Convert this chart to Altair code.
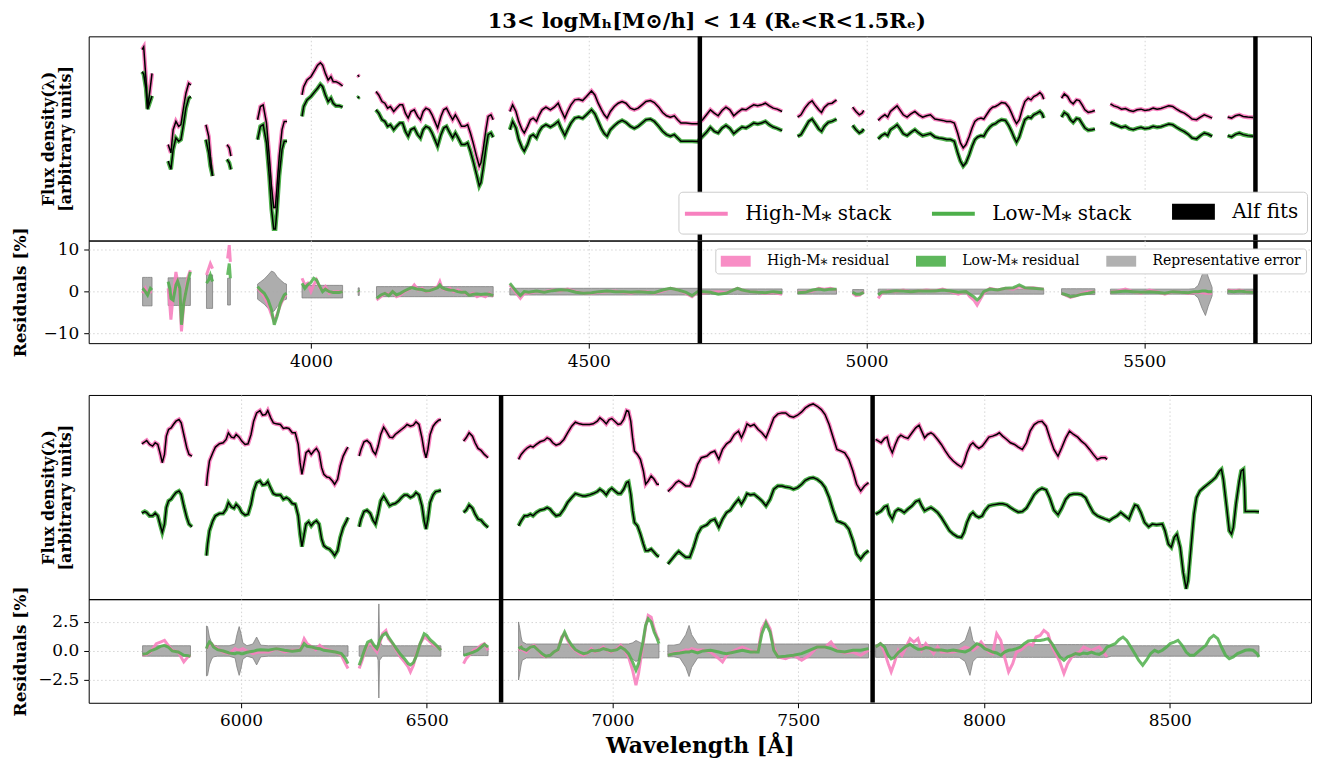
import altair as alt
import pandas as pd

FONT = "DejaVu Serif"
PINK = "#f781bf"
GREEN = "#4daf4a"
GRAY = "#a9a9a9"
GRAYEDGE = "#7a7a7a"
GRID = "#cfcfcf"

HI = "High-M⁎ stack"
LO = "Low-M⁎ stack"
FIT = "Alf fits"
RHI = "High-M⁎ residual"
RLO = "Low-M⁎ residual"
RERR = "Representative error"
TITLE = "13< logMₕ[M⊙/h] < 14 (Rₑ<R<1.5Rₑ)"

# ---------------- top spectrum (flux in arbitrary units) ----------------
tA_wl = [3696, 3699, 3703, 3706, 3710, 3714]
tA_hi = [577, 585, 490, 400, 450, 505]
tA_lo = [510, 503, 460, 397, 417, 437]
tB_wl = [3743, 3748, 3752, 3757, 3762, 3766, 3771, 3775, 3780, 3784]
tB_hi = [290, 265, 335, 360, 345, 350, 405, 445, 475, 470]
tB_lo = [240, 215, 275, 310, 300, 305, 355, 400, 430, 435]
tC_wl = [3811, 3816, 3819, 3823]
tC_hi = [350, 315, 255, 195]
tC_lo = [305, 265, 225, 195]
tD_wl = [3849, 3853, 3856]
tD_hi = [290, 280, 255]
tD_lo = [245, 235, 215]
tE_wl = [3904, 3909, 3914, 3920, 3925, 3929, 3933, 3936, 3939, 3943, 3948, 3952, 3957]
tE_hi = [365, 405, 410, 355, 255, 165, 100, 100, 165, 255, 335, 360, 360]
tE_lo = [305, 345, 350, 295, 195, 95, 35, 35, 95, 195, 275, 300, 300]
tF_wl = [3984, 3987, 3993, 4000, 4007, 4012, 4017, 4021, 4026, 4031, 4036, 4040, 4045, 4051, 4057]
tF_hi = [440, 465, 485, 495, 515, 530, 537, 530, 505, 485, 495, 480, 480, 475, 467]
tF_lo = [375, 405, 425, 435, 450, 460, 472, 465, 440, 420, 430, 415, 407, 407, 403]
tG_wl = [4084, 4087]
tG_hi = [500, 495]
tG_lo = [430, 435]
tH_wl = [4117, 4122, 4128, 4133, 4138, 4143, 4149, 4154, 4160, 4165, 4170, 4175, 4180, 4186,
         4192, 4197, 4202, 4207, 4213, 4218, 4223, 4228, 4234, 4239, 4244, 4250, 4255, 4260,
         4265, 4271, 4277, 4282, 4287, 4292, 4298, 4303, 4306, 4310, 4315, 4319, 4324, 4328]
tH_hi = [450, 440, 420, 415, 400, 405, 390, 400, 410, 410, 385, 370, 390, 395, 375, 365, 390, 400,
         395, 380, 360, 340, 375, 395, 400, 380, 365, 380, 365, 345, 345, 350, 325, 295, 255, 225,
         235, 275, 335, 375, 380, 365]
tH_lo = [395, 385, 365, 360, 345, 350, 335, 345, 355, 355, 330, 315, 335, 340, 320, 310, 335, 345,
         340, 325, 305, 285, 320, 340, 345, 325, 310, 325, 310, 290, 290, 295, 270, 240, 200, 165,
         175, 218, 280, 320, 325, 312]
tI_wl = [4358, 4363, 4369, 4374, 4380, 4384, 4390, 4395, 4400, 4406, 4411, 4416, 4423, 4431, 4438,
         4445, 4450, 4457, 4462, 4468, 4475, 4482, 4489, 4496, 4505, 4511, 4517, 4523, 4528, 4533,
         4539, 4546, 4553, 4560, 4567, 4575, 4582, 4589, 4596, 4603, 4611, 4618, 4626, 4633, 4640,
         4647, 4654, 4660, 4666, 4675, 4686, 4696, 4705, 4712, 4719, 4726, 4733, 4740, 4747, 4754,
         4761, 4768, 4776, 4783, 4790, 4797, 4804, 4811, 4818, 4825, 4832, 4839, 4848]
tI_hi = [390, 410, 390, 360, 335, 325, 345, 365, 370, 360, 380, 395, 403, 395, 403, 415, 395, 370,
         390, 410, 425, 427, 423, 435, 452, 440, 415, 395, 380, 370, 390, 405, 415, 420, 415, 400,
         395, 400, 410, 420, 423, 417, 403, 387, 377, 373, 377, 365, 355, 355, 353, 353,
         365, 380, 395, 385, 377, 393, 403, 395, 377, 387, 397, 395, 403, 410, 407, 410, 415, 407,
         400, 397, 390]
tI_lo = [335, 360, 340, 305, 280, 270, 290, 315, 320, 310, 330, 343, 350, 343, 350, 360, 340, 317,
         335, 355, 370, 373, 369, 380, 395, 383, 360, 337, 323, 315, 335, 347, 357, 363, 357, 345,
         339, 345, 355, 365, 367, 360, 345, 330, 320, 315, 320, 310, 300, 300, 300, 299,
         315, 327, 342, 330, 325, 340, 348, 339, 323, 333, 343, 340, 347, 355, 352, 355, 360, 350,
         343, 339, 332]
tJ_wl = [4876, 4882, 4889, 4896, 4902, 4907, 4914, 4919, 4924, 4931, 4938, 4946]
tJ_hi = [373, 380, 400, 415, 422, 410, 395, 387, 402, 413, 415, 425]
tJ_lo = [315, 320, 340, 360, 367, 355, 337, 330, 345, 357, 360, 367]
tK_wl = [4975, 4981, 4987, 4992, 4995]
tK_hi = [403, 390, 380, 385, 393]
tK_lo = [348, 335, 325, 330, 337]
tL_wl = [5021, 5027, 5033, 5038, 5043, 5050, 5055, 5060, 5066, 5073, 5080, 5087, 5094, 5101, 5108,
         5115, 5123, 5130, 5137, 5144, 5151, 5158, 5164, 5169, 5174, 5179, 5185, 5190, 5195, 5200,
         5206, 5211, 5216, 5222, 5227, 5232, 5237, 5243, 5250, 5256, 5261, 5266, 5270, 5275, 5280,
         5285, 5291, 5296, 5301, 5307, 5312, 5316, 5319]
tL_hi = [363, 373, 380, 373, 390, 400, 407, 395, 380, 373, 383, 390, 380, 373, 377, 380, 367, 365,
         363, 360, 360, 355, 325, 295, 280, 290, 315, 340, 360, 367, 370, 367, 380, 395, 403, 405,
         410, 417, 415, 403, 385, 365, 353, 365, 395, 420, 430, 425, 435, 440, 447, 440, 427]
tL_lo = [307, 317, 323, 317, 335, 343, 350, 339, 323, 317, 327, 335, 325, 317, 320, 323, 313, 310,
         308, 305, 305, 300, 265, 240, 225, 235, 260, 285, 305, 313, 317, 315, 330, 343, 350, 353,
         360, 365, 363, 347, 330, 310, 297, 313, 340, 365, 373, 370, 380, 385, 390, 383, 370]
tM_wl = [5351, 5356, 5362, 5367, 5372, 5378, 5383, 5388, 5393, 5399, 5406, 5411]
tM_hi = [430, 443, 435, 420, 413, 425, 423, 410, 395, 387, 390, 393]
tM_lo = [373, 387, 380, 365, 357, 369, 367, 353, 340, 333, 335, 337]
tN_wl = [5439, 5445, 5452, 5459, 5466, 5473, 5480, 5487, 5494, 5501, 5509, 5516, 5523, 5530,
         5537, 5544, 5551, 5558, 5565, 5572, 5579, 5586, 5594, 5601, 5608, 5615, 5622]
tN_hi = [413, 407, 403, 397, 399, 393, 390, 395, 397, 393, 395, 400, 397, 399, 403, 407, 405, 397,
         390, 385, 377, 367, 365, 373, 380, 375, 370]
tN_lo = [357, 352, 347, 342, 345, 338, 335, 339, 342, 338, 340, 345, 342, 344, 348, 352, 350, 342,
         335, 329, 321, 310, 307, 317, 325, 321, 315]
tO_wl = [5650, 5657, 5664, 5671, 5678, 5686, 5696]
tO_hi = [373, 370, 377, 380, 375, 373, 372]
tO_lo = [317, 313, 321, 325, 320, 317, 315]

# ---------------- bottom spectrum ----------------
bP_wl = [5733, 5741, 5746, 5754, 5762, 5769, 5776, 5783, 5788, 5794, 5799, 5805, 5812, 5818, 5825,
         5833, 5839, 5846, 5854, 5860, 5868]
bP_hi = [468, 474, 478, 466, 461, 471, 466, 436, 411, 436, 491, 511, 516, 526, 536, 541, 531, 496,
         456, 436, 431]
bP_lo = [259, 264, 261, 251, 251, 259, 251, 221, 201, 226, 276, 296, 301, 311, 321, 326, 316, 281,
         246, 226, 218]
bQ_wl = [5907, 5910, 5915, 5924, 5931, 5942, 5952, 5960, 5966, 5974, 5981, 5987, 5995, 6002, 6011,
         6019, 6027, 6034, 6042, 6051, 6058, 6066, 6072, 6080, 6087, 6095, 6106, 6114, 6122, 6129,
         6138, 6146, 6154, 6159, 6164, 6170, 6175, 6182, 6189, 6196, 6203, 6210, 6217, 6223, 6231,
         6238, 6246, 6252, 6260, 6267, 6275, 6284, 6288]
bQ_hi = [341, 376, 416, 441, 458, 468, 471, 481, 501, 488, 486, 496, 488, 476, 466, 468, 496, 536,
         561, 568, 554, 556, 568, 546, 531, 528, 526, 514, 516, 514, 501, 501, 466, 411, 376, 411,
         441, 448, 436, 446, 454, 441, 396, 376, 368, 366, 356, 346, 361, 401, 431, 451, 458]
bQ_lo = [131, 166, 206, 236, 251, 258, 258, 271, 291, 278, 274, 286, 276, 261, 253, 256, 286, 326,
         351, 356, 344, 346, 354, 334, 318, 314, 314, 301, 306, 301, 288, 286, 251, 196, 158, 196,
         226, 233, 221, 231, 236, 226, 181, 161, 154, 151, 141, 131, 146, 186, 216, 236, 246]
bR_wl = [6318, 6323, 6331, 6339, 6348, 6355, 6362, 6369, 6376, 6384, 6392, 6400, 6408, 6415, 6424,
         6432, 6440, 6447, 6456, 6464, 6471, 6479, 6487, 6493, 6498, 6503, 6509, 6517, 6524, 6532,
         6538]
bR_hi = [431, 451, 474, 478, 468, 446, 436, 461, 496, 518, 504, 488, 486, 496, 504, 511, 518, 526,
         521, 524, 534, 526, 486, 446, 426, 451, 496, 521, 531, 539, 541]
bR_lo = [218, 241, 264, 268, 258, 238, 226, 258, 296, 311, 296, 281, 286, 288, 296, 306, 314, 314,
         306, 311, 321, 314, 281, 236, 211, 241, 291, 314, 324, 326, 328]
bS_wl = [6599, 6606, 6614, 6623, 6630, 6638, 6646, 6655, 6665]
bS_hi = [476, 486, 501, 491, 471, 454, 448, 436, 426]
bS_lo = [261, 268, 284, 274, 256, 241, 238, 226, 216]
bT_wl = [6747, 6754, 6763, 6771, 6779, 6786, 6795, 6805, 6816, 6824, 6832, 6839, 6848, 6858, 6869,
         6879, 6890, 6900, 6911, 6920, 6927, 6938, 6948, 6959, 6966, 6975, 6983, 6991, 6998, 7006,
         7015, 7022, 7030, 7038, 7043, 7049, 7054, 7059, 7067, 7075, 7083, 7089, 7096, 7104, 7112,
         7120, 7125]
bT_hi = [421, 436, 448, 456, 461, 458, 466, 474, 478, 486, 481, 471, 464, 468, 481, 501, 521, 533,
         528, 526, 526, 526, 528, 536, 546, 538, 528, 541, 544, 536, 526, 528, 541, 568, 566, 536,
         486, 446, 436, 421, 386, 346, 356, 371, 361, 346, 346]
bT_lo = [221, 236, 251, 251, 256, 251, 261, 268, 271, 276, 271, 261, 251, 254, 271, 291, 306, 318,
         314, 311, 311, 314, 318, 324, 331, 324, 314, 328, 334, 326, 318, 318, 331, 351, 354, 316,
         266, 231, 221, 196, 166, 146, 146, 151, 141, 131, 128]
bU_wl = [7149, 7160, 7171, 7178, 7186, 7197, 7208, 7218, 7229, 7239, 7254, 7264, 7275, 7286, 7296,
         7307, 7317, 7328, 7339, 7347, 7355, 7362, 7371, 7381, 7392, 7402, 7413, 7424, 7434, 7445,
         7456, 7466, 7477, 7487, 7498, 7509, 7519, 7530, 7540, 7551, 7562, 7572, 7583, 7594, 7604,
         7615, 7625, 7636, 7647, 7657, 7668, 7678, 7689]
bU_hi = [324, 336, 351, 356, 351, 341, 341, 366, 406, 426, 431, 441, 446, 421, 451, 468, 476, 496,
         506, 486, 506, 528, 521, 526, 511, 501, 486, 516, 546, 558, 561, 561, 551, 548, 554, 564,
         576, 584, 588, 581, 571, 556, 526, 486, 451, 446, 441, 421, 386, 346, 326, 341, 351]
bU_lo = [106, 121, 136, 144, 136, 126, 126, 156, 196, 216, 224, 236, 241, 216, 241, 261, 268, 286,
         301, 286, 301, 318, 314, 316, 306, 296, 281, 301, 331, 341, 341, 338, 336, 331, 336, 346,
         358, 364, 366, 361, 351, 336, 306, 266, 236, 231, 226, 211, 176, 136, 121, 136, 146]
bV_wl = [7708, 7716, 7723, 7732, 7739, 7745, 7753, 7761, 7769, 7776, 7785, 7795, 7806, 7816, 7825,
         7832, 7840, 7848, 7857, 7864, 7875, 7885, 7896, 7907, 7917, 7928, 7939, 7946, 7954, 7963,
         7970, 7978, 7986, 7995, 8002, 8013, 8023, 8034, 8041, 8050, 8061, 8071, 8082, 8092, 8103,
         8114, 8124, 8135, 8146, 8156, 8167, 8177, 8188, 8199, 8209, 8220, 8230, 8241, 8252, 8262,
         8273, 8284, 8294, 8305, 8315, 8326, 8331]
bV_hi = [481, 476, 471, 484, 488, 461, 441, 466, 486, 494, 488, 484, 501, 516, 524, 506, 486, 496,
         501, 496, 481, 466, 446, 428, 416, 406, 398, 411, 441, 464, 471, 461, 454, 461, 471, 488,
         491, 496, 501, 491, 481, 471, 466, 458, 451, 471, 506, 526, 534, 536, 521, 486, 451, 431,
         456, 486, 506, 496, 488, 476, 466, 451, 436, 421, 426, 426, 421]
bV_lo = [256, 261, 266, 278, 281, 256, 241, 264, 271, 268, 261, 271, 281, 294, 298, 281, 266, 271,
         276, 271, 261, 246, 226, 206, 196, 188, 186, 201, 231, 254, 261, 251, 246, 251, 266, 281,
         284, 286, 287, 287, 284, 276, 268, 262, 264, 274, 293, 315, 328, 334, 329, 304, 268, 254,
         274, 301, 314, 317, 317, 315, 306, 281, 261, 251, 246, 241, 239]
bW_wl = [8337, 8347, 8358, 8368, 8379, 8390, 8398, 8406, 8413, 8422, 8432, 8443, 8453, 8464, 8480,
         8487, 8496, 8504, 8512, 8519, 8528, 8536, 8544, 8549, 8557, 8565, 8572, 8581, 8591, 8602,
         8613, 8623, 8634, 8639, 8644, 8653, 8660, 8666, 8671, 8678, 8687, 8692, 8698, 8701, 8703,
         8714, 8729, 8740]
bW_lo = [236, 244, 251, 261, 251, 241, 264, 284, 281, 261, 231, 218, 226, 224, 226, 206, 166, 156,
         186, 196, 156, 81, 31, 56, 156, 256, 306, 326, 336, 346, 356, 366, 386, 391, 361, 276,
         206, 196, 216, 286, 356, 386, 391, 336, 264, 264, 264, 263]

# ---------------- top residuals [%] ----------------
rA_wl = [3697, 3702, 3706, 3711, 3714]
rA_err = [3.4, 3.4, 3.4, 3.4, 3.4]
rA_hi = [-0.4, 0.8, -0.4, 0.0, 0.0]
rA_lo = [0.8, 0.0, -0.8, 0.8, 0.4]
rB_wl = [3743, 3746, 3748, 3752, 3757, 3760, 3764, 3767, 3771, 3775, 3778, 3783]
rB_err = [3.3, 3.3, 3.3, 3.3, 3.3, 3.3, 3.3, 3.3, 3.3, 3.3, 3.3, 3.3]
rB_hi = [0.8, -3.2, -6.7, -0.8, 4.7, 2.4, -1.6, -9.5, -3.2, 0.8, 3.2, 5.1]
rB_lo = [2.4, 0.8, -1.6, -2.0, 1.6, 2.5, 0.8, -7.9, -2.8, 0.0, 2.0, 4.7]
rC_wl = [3812, 3816, 3819, 3823]
rC_err = [4.0, 4.0, 4.0, 4.0]
rC_hi = [4.0, 5.5, 6.7, 5.5]
rC_lo = [2.0, 2.8, 4.0, 2.4]
rD_wl = [3850, 3853, 3855]
rD_err = [3.2, 3.2, 3.2]
rD_hi = [7.9, 11.1, 7.1]
rD_lo = [4.0, 6.7, 3.2]
rE_wl = [3904, 3909, 3916, 3923, 3929, 3934, 3939, 3945, 3952, 3956]
rE_err = [1.8, 2.3, 3.0, 4.0, 4.9, 4.6, 3.6, 2.8, 2.0, 1.8]
rE_hi = [0.8, 0.0, -1.2, -3.2, -5.5, -7.1, -5.5, -3.2, -1.2, -0.8]
rE_lo = [1.2, 0.4, -0.4, -2.0, -4.3, -7.9, -5.9, -2.8, -0.8, -0.4]
rF_wl = [3984, 3989, 3994, 4000, 4005, 4010, 4016, 4021, 4026, 4033, 4040, 4051, 4057]
rF_err = [1.5, 1.5, 1.5, 1.5, 1.5, 1.5, 1.5, 1.5, 1.5, 1.5, 1.5, 1.5, 1.5]
rF_hi = [3.2, 1.6, 2.0, 0.0, 1.6, 2.8, 0.8, 0.4, 1.2, -0.4, 0.0, 0.0, 0.0]
rF_lo = [2.0, 0.8, 1.6, 2.2, 3.2, 2.8, 1.2, 0.0, 0.6, 0.0, -0.2, -0.2, 0.0]
rG_wl = [4085, 4087]
rG_err = [0.9, 0.9]
rG_hi = [0.0, 0.0]
rG_lo = [0.2, 0.0]
rH_wl = [4118, 4126, 4133, 4140, 4147, 4154, 4161, 4168, 4175, 4182, 4186, 4193, 4200, 4207, 4214,
         4221, 4228, 4232, 4236, 4243, 4250, 4257, 4264, 4271, 4278, 4285, 4292, 4299, 4306, 4314,
         4321, 4328]
rH_err = [1.2, 1.2, 1.2, 1.2, 1.2, 1.2, 1.2, 1.2, 1.2, 1.2, 1.2, 1.2, 1.2, 1.2, 1.2, 1.2,
          1.2, 1.2, 1.2, 1.2, 1.2, 1.2, 1.2, 1.2, 1.2, 1.2, 1.2, 1.2, 1.2, 1.2, 1.2, 1.2]
rH_hi = [-2.0, -1.2, -0.4, -0.6, 0.0, -1.2, -0.8, 0.0, 0.4, 0.95, 1.6, 0.4, 0.8, 0.0, 0.16, 0.8,
         1.2, 2.4, 0.8, 0.4, 0.8, 0.0, 0.4, 0.0, -0.4, -0.8, -0.4, -1.2, -0.8, -1.2, -0.4, -1.2]
rH_lo = [-1.6, -0.8, -0.4, -0.95, 0.0, -0.8, -0.4, 0.16, 0.6, 0.95, 0.8, 0.55, 0.5, 0.16, 0.24,
         0.6, 0.95, 1.6, 0.95, 0.55, 0.4, 0.3, 0.0, -0.16, -0.16, -0.9, -0.6, -0.55, -0.7, -0.55,
         -0.6, -0.95]
rI_wl = [4358, 4363, 4370, 4377, 4384, 4392, 4406, 4420, 4434, 4448, 4462, 4477, 4491, 4505, 4519,
         4533, 4548, 4562, 4576, 4590, 4604, 4618, 4633, 4647, 4661, 4675, 4686, 4696, 4705, 4719,
         4733, 4747, 4761, 4768, 4776, 4790, 4804, 4818, 4832, 4848]
rI_err = [0.8, 0.8, 0.8, 0.8, 0.8, 0.8, 0.8, 0.8, 0.8, 0.8, 0.8, 0.8, 0.8, 0.8, 0.8, 0.8, 0.8, 0.8,
          0.8, 0.8, 0.8, 0.8, 0.8, 0.8, 0.8, 0.8, 0.8, 0.8, 0.65, 0.65, 0.65, 0.65, 0.65, 0.65,
          0.65, 0.65, 0.65, 0.65, 0.65, 0.65]
rI_hi = [1.6, 0.8, -0.4, -1.6, -0.4, -0.4, 0.0, 0.0, 0.4, 0.16, 0.6, 0.0, -0.4, -0.4, -0.16, 0.0,
         0.16, -0.16, -0.4, 0.0, 0.0, -0.4, 0.16, 0.8, 0.4, -0.4, -1.2, -0.16, -0.4, -0.16, 0.0,
         -0.24, 0.4, 0.8, 0.4, 0.0, -0.16, -0.4, -0.24, -0.6]
rI_lo = [2.0, 1.2, 0.0, -0.95, 0.0, -0.16, 0.16, -0.16, 0.24, 0.4, 0.4, -0.16, -0.4, -0.24, 0.0,
         0.16, 0.0, 0.0, -0.16, 0.0, -0.16, -0.24, 0.4, 0.8, 0.4, -0.16, -0.95, 0.0, 0.0, -0.16,
         -0.6, -0.4, 0.4, 0.8, 0.4, 0.0, -0.16, -0.24, 0.0, -0.24]
rJ_wl = [4876, 4889, 4903, 4914, 4924, 4935, 4946]
rJ_err = [0.6, 0.6, 0.6, 0.6, 0.6, 0.6, 0.6]
rJ_hi = [-0.16, 0.0, 0.16, 0.8, 0.6, 0.8, 0.4]
rJ_lo = [-0.24, -0.16, 0.4, 0.6, 0.4, 0.6, 0.55]
rK_wl = [4975, 4981, 4988, 4995]
rK_err = [0.5, 0.5, 0.5, 0.5]
rK_hi = [-0.4, -0.95, -0.8, 0.0]
rK_lo = [-0.16, -0.6, -0.6, -0.16]
rL_wl = [5021, 5027, 5038, 5052, 5066, 5080, 5094, 5108, 5123, 5137, 5151, 5165, 5179, 5186, 5193,
         5199, 5204, 5211, 5222, 5236, 5250, 5264, 5275, 5285, 5300, 5319]
rL_err = [0.6, 0.6, 0.6, 0.6, 0.6, 0.6, 0.6, 0.6, 0.6, 0.6, 0.6, 0.6, 0.6, 0.6, 0.6, 0.6, 0.6,
          0.6, 0.6, 0.6, 0.6, 0.6, 0.6, 0.6, 0.6, 0.6]
rL_hi = [-1.6, -0.4, 0.16, 0.0, 0.4, 0.0, 0.16, 0.4, 0.16, 0.6, 0.0, -0.6, 0.0, -1.2, -2.0, -3.2,
         -2.0, -0.4, 0.8, 0.4, 0.8, 0.6, 1.2, 0.8, 0.95, 0.6]
rL_lo = [-0.8, -0.16, 0.0, 0.16, 0.16, 0.0, 0.16, 0.16, 0.16, 0.4, 0.16, -0.16, 0.0, -0.6, -1.2,
         -2.0, -1.4, 0.0, 0.6, 0.4, 0.8, 0.95, 1.6, 0.95, 0.8, 0.6]
rM_wl = [5351, 5360, 5367, 5378, 5388, 5399, 5411]
rM_err = [0.7, 0.7, 0.7, 0.7, 0.7, 0.7, 0.7]
rM_hi = [-0.4, -0.95, -1.4, -0.95, -0.4, 0.0, 0.0]
rM_lo = [-0.4, -0.8, -1.2, -0.95, -0.6, -0.4, 0.0]
rN_wl = [5439, 5452, 5466, 5480, 5494, 5509, 5523, 5537, 5551, 5565, 5579, 5590, 5597, 5604, 5610,
         5615, 5622]
rN_err = [0.6, 0.6, 0.6, 0.6, 0.6, 0.6, 0.6, 0.6, 0.6, 0.6, 0.6, 0.7, 1.5, 4.0, 5.7, 3.5, 1.0]
rN_hi = [-0.16, 0.16, 0.6, 0.0, -0.4, 0.4, 0.0, -0.6, 0.0, -0.16, -0.4, -0.24, -0.16, -0.24, -0.4,
         -0.4, -0.4]
rN_lo = [-0.16, 0.0, 0.16, 0.0, -0.16, 0.0, -0.16, -0.4, 0.0, -0.16, -0.24, 0.0, 0.0, 0.16, 0.16,
         0.0, 0.0]
rO_wl = [5650, 5661, 5671, 5682, 5696]
rO_err = [0.6, 0.6, 0.6, 0.6, 0.6]
rO_hi = [0.4, 0.16, 0.4, 0.0, 0.0]
rO_lo = [0.16, 0.0, 0.16, 0.0, -0.16]

# ---------------- bottom residuals [%] ----------------
sP_wl = [5735, 5746, 5756, 5772, 5783, 5794, 5804, 5815, 5831, 5846, 5857, 5864]
sP_err = [0.45, 0.45, 0.45, 0.45, 0.45, 0.45, 0.45, 0.45, 0.45, 0.45, 0.45, 0.45]
sP_hi = [-0.37, -0.29, -0.09, 0.63, 0.77, 0.91, 0.49, 0.06, -0.09, -0.94, -0.51, -0.37]
sP_lo = [-0.29, -0.23, 0.0, 0.2, 0.4, 0.49, 0.34, 0.0, -0.09, -0.37, -0.4, -0.46]
sQ_wl = [5907, 5910, 5915, 5921, 5926, 5937, 5952, 5968, 5984, 5989, 5995, 6000, 6005, 6016, 6032,
         6042, 6053, 6074, 6095, 6117, 6138, 6159, 6170, 6178, 6191, 6201, 6212, 6223, 6238, 6254,
         6270, 6281, 6288]
sQ_err = [2.15, 2.1, 1.2, 0.7, 0.5, 0.45, 0.45, 0.45, 0.6, 1.4, 2.1, 1.5, 0.7, 0.45, 0.6, 1.2,
          0.5, 0.45, 0.45, 0.45, 0.45, 0.45, 0.45, 0.45, 0.45, 0.45, 0.45, 0.45, 0.45, 0.45, 0.45,
          0.45, 0.45]
sQ_hi = [0.2, 0.34, 0.57, 0.63, 0.4, 0.2, -0.09, -0.23, 0.2, 0.11, 0.06, 0.14, 0.2, 0.0, -0.23,
         -0.14, -0.09, -0.09, 0.2, -0.09, 0.06, 0.06, 1.06, 0.63, 0.34, 0.11, 0.49, 0.2, 0.06,
         -0.09, -0.37, -1.09, -1.51]
sQ_lo = [0.2, 0.49, 0.77, 0.63, 0.34, 0.11, 0.0, -0.17, -0.23, -0.17, -0.17, -0.23, -0.23, -0.11,
         -0.03, 0.06, 0.11, 0.06, 0.2, 0.06, -0.03, 0.06, 0.63, 0.4, 0.34, 0.23, 0.2, 0.06, 0.0,
         -0.09, -0.23, -0.66, -1.09]
sR_wl = [6318, 6326, 6334, 6341, 6350, 6358, 6366, 6369, 6371, 6373, 6381, 6390, 6397, 6408, 6418,
         6429, 6440, 6450, 6456, 6464, 6471, 6482, 6493, 6500, 6509, 6519, 6530, 6538]
sR_err = [0.45, 0.45, 0.45, 0.45, 0.45, 0.45, 0.45, 0.8, 4.05, 0.8, 0.45, 0.45, 0.45, 0.45, 0.45,
          0.45, 0.45, 0.45, 0.45, 0.45, 0.45, 0.45, 0.45, 0.45, 0.45, 0.45, 0.45, 0.45]
sR_hi = [-1.51, -0.8, 0.06, 0.49, 0.77, 0.2, -0.09, 0.2, 0.49, 0.63, 1.49, 1.77, 1.06, 0.63, 0.06,
         -0.51, -0.94, -1.37, -1.8, -1.23, -0.37, 0.63, 1.2, 1.06, 0.77, 0.49, 0.34, 0.06]
sR_lo = [-1.23, -0.51, 0.2, 0.77, 0.91, 0.49, 0.2, 0.4, 0.63, 0.91, 1.34, 1.54, 1.2, 0.69, 0.2,
         -0.29, -0.66, -1.09, -1.2, -1.0, -0.51, 0.63, 1.49, 1.34, 0.97, 0.69, 0.34, 0.06]
sS_wl = [6599, 6606, 6614, 6625, 6636, 6646, 6655, 6665]
sS_err = [0.4, 0.4, 0.4, 0.4, 0.4, 0.4, 0.4, 0.4]
sS_hi = [-1.09, -0.66, -0.37, 0.06, 0.2, 0.49, 0.63, 0.06]
sS_lo = [-0.37, -0.31, -0.23, -0.09, 0.06, 0.34, 0.57, 0.34]
sT_wl = [6747, 6750, 6754, 6757, 6768, 6779, 6789, 6800, 6810, 6821, 6832, 6842, 6853, 6863, 6871,
         6879, 6890, 6900, 6911, 6922, 6932, 6943, 6953, 6964, 6975, 6985, 6996, 7012, 7022, 7033,
         7043, 7054, 7063, 7070, 7081, 7089, 7096, 7104, 7112, 7120, 7125]
sT_err = [2.5, 2.0, 1.2, 0.8, 0.6, 0.6, 0.6, 0.6, 0.6, 0.6, 0.6, 0.6, 0.6, 0.6, 0.6, 0.6, 0.6,
          0.6, 0.6, 0.6, 0.6, 0.6, 0.6, 0.6, 0.6, 0.6, 0.6, 0.6, 0.6, 0.6, 0.6, 0.7, 0.9, 0.8,
          0.6, 0.6, 0.6, 0.6, 0.6, 0.6, 0.6]
sT_hi = [0.06, 0.14, 0.34, 0.11, -0.09, 0.34, 0.49, 0.06, -0.37, -0.51, -0.37, -0.09, 0.06, 1.2,
         1.49, 0.91, 0.34, 0.06, -0.23, -0.37, -0.23, 0.2, -0.09, 0.06, 0.34, 0.06, -0.09, 0.2,
         0.49, 0.06, -0.51, -1.66, -2.94, -1.94, 0.34, 2.06, 3.06, 2.91, 1.91, 1.2, 0.91]
sT_lo = [0.2, 0.26, 0.34, 0.2, 0.06, 0.34, 0.4, 0.06, -0.23, -0.46, -0.37, -0.09, 0.11, 1.06,
         1.63, 1.06, 0.49, 0.11, -0.09, -0.23, -0.17, 0.06, 0.0, 0.06, 0.2, 0.11, 0.0, 0.11, 0.34,
         0.11, -0.23, -0.94, -1.66, -1.09, 0.63, 2.2, 2.77, 2.49, 1.63, 1.06, 0.63]
sU_wl = [7149, 7165, 7181, 7197, 7206, 7213, 7229, 7243, 7264, 7286, 7296, 7307, 7328, 7349, 7371,
         7381, 7392, 7402, 7413, 7424, 7434, 7445, 7466, 7487, 7509, 7530, 7551, 7572, 7588, 7604,
         7625, 7647, 7668, 7689]
sU_err = [0.5, 0.5, 0.6, 1.4, 2.2, 1.4, 0.6, 0.6, 0.6, 0.6, 0.6, 0.6, 0.6, 0.6, 0.6, 0.6, 0.6,
          0.6, 0.6, 0.6, 0.6, 0.6, 0.6, 0.6, 0.6, 0.6, 0.6, 0.6, 0.6, 0.6, 0.6, 0.6, 0.6, 0.6]
sU_hi = [-0.37, -0.17, -0.09, 0.11, 0.06, 0.2, 0.06, 0.11, -0.09, -0.66, -0.94, -0.37, 0.06, 0.34,
         0.06, -0.09, 0.06, 1.91, 2.57, 1.91, 0.34, -0.51, -0.66, -0.37, -0.8, -0.37, 0.34, 0.34,
         0.77, 0.06, -0.17, -0.09, -0.37, 0.06]
sU_lo = [-0.37, -0.23, -0.17, -0.09, -0.09, 0.0, -0.17, 0.0, 0.06, -0.09, -0.17, -0.23, -0.09,
         0.06, -0.09, -0.09, -0.09, 1.49, 2.4, 1.63, 0.06, -0.51, -0.46, -0.37, -0.23, 0.06, 0.34,
         0.34, 0.2, 0.0, -0.09, 0.06, 0.06, 0.2]
sV_wl = [7708, 7721, 7732, 7742, 7750, 7758, 7769, 7779, 7790, 7801, 7811, 7822, 7832, 7843, 7854,
         7864, 7875, 7885, 7901, 7917, 7933, 7949, 7962, 7970, 7981, 7992, 8002, 8013, 8023, 8034,
         8045, 8055, 8066, 8077, 8087, 8098, 8108, 8119, 8130, 8140, 8151, 8161, 8172, 8183, 8193,
         8204, 8215, 8225, 8236, 8246, 8257, 8268, 8278, 8289, 8299, 8310, 8321, 8331]
sV_err = [0.55, 0.55, 0.55, 0.55, 0.55, 0.55, 0.55, 0.55, 0.55, 0.55, 0.55, 0.55, 0.55, 0.55,
          0.55, 0.55, 0.55, 0.55, 0.55, 0.55, 0.55, 0.9, 2.1, 0.9, 0.55, 0.55, 0.55, 0.55, 0.55,
          0.55, 0.55, 0.55, 0.55, 0.55, 0.55, 0.55, 0.55, 0.55, 0.55, 0.55, 0.55, 0.55, 0.55,
          0.55, 0.55, 0.55, 0.55, 0.55, 0.55, 0.55, 0.55, 0.55, 0.55, 0.55, 0.55, 0.55, 0.55, 0.55]
sV_hi = [0.34, 0.63, -0.09, -1.09, -1.8, -1.09, 0.06, -0.37, 0.34, 1.06, 0.77, 1.06, 0.06, 0.63,
         0.2, -0.23, 0.34, -0.09, -0.09, -0.09, 0.06, 0.34, 0.2, 0.06, 0.34, 0.77, 0.34, -0.09,
         -0.23, 1.49, 0.91, -0.51, -1.8, -1.09, -0.09, 0.06, 0.34, 0.63, 0.49, 1.2, 1.34, 1.77,
         1.49, 0.34, -0.23, -0.94, -1.94, -1.09, -0.51, -0.23, -0.09, 0.34, 0.2, 0.06, 0.2, 0.34,
         -0.09, -0.51]
sV_lo = [0.34, 0.63, 0.34, -0.37, -0.69, -0.57, -0.14, 0.11, 0.4, 0.57, 0.34, 0.14, 0.14, 0.29,
         0.23, 0.09, 0.09, 0.09, 0.0, 0.09, 0.0, -0.09, 0.11, 0.34, 0.63, 0.49, 0.2, 0.06, -0.09,
         -0.17, -0.37, -0.09, 0.06, 0.11, 0.2, 0.34, 0.63, 0.86, 0.91, 0.91, 0.91, 0.97, 1.06,
         0.63, 0.06, -0.51, -0.8, -0.51, -0.37, -0.23, -0.29, -0.17, -0.23, -0.09, -0.23, -0.29,
         -0.09, 0.34]
sW_wl = [8342, 8353, 8363, 8374, 8384, 8395, 8406, 8416, 8427, 8437, 8448, 8459, 8469, 8480, 8491,
         8501, 8512, 8522, 8533, 8544, 8554, 8565, 8575, 8586, 8597, 8607, 8618, 8629, 8639, 8650,
         8660, 8671, 8682, 8692, 8703, 8714, 8724, 8735, 8740]
sW_err = [0.45, 0.45, 0.45, 0.45, 0.45, 0.45, 0.45, 0.45, 0.45, 0.45, 0.45, 0.45, 0.45, 0.45,
          0.45, 0.45, 0.45, 0.45, 0.45, 0.45, 0.45, 0.45, 0.45, 0.45, 0.45, 0.45, 0.45, 0.45, 0.45,
          0.45, 0.45, 0.45, 0.45, 0.45, 0.45, 0.45, 0.45, 0.45, 0.45]
sW_lo = [0.49, 0.63, 0.97, 1.2, 0.91, 0.34, -0.23, -0.8, -1.23, -0.8, -0.23, 0.06, -0.09, 0.06,
         0.34, 0.63, 0.77, 0.91, 0.49, -0.09, -0.37, -0.37, -0.09, 0.2, 0.49, 1.06, 1.34, 1.06,
         0.34, -0.37, -0.66, -0.51, -0.23, -0.09, 0.06, 0.11, 0.06, -0.23, -0.51]

# fit-window boundaries and tick values
top_edges = [4700, 5700]
bot_edges = [6700, 7700]
top_xticks = [4000, 4500, 5000, 5500]
bot_xticks = [6000, 6500, 7000, 7500, 8000, 8500]
top_rticks = [-10, 0, 10]
bot_rticks = [-2.5, 0.0, 2.5]

# legend-only keys (placed outside the plotted wavelength range, so they are clipped away)
stack_keys = [HI, LO, FIT]
res_keys = [RHI, RLO, RERR]
KEY_WL = 3000


# ---------------- assembling tables ----------------
def spec_df(name, parts):
    rows = []
    for i, (wl, vals) in enumerate(parts):
        for w, v in zip(wl, vals):
            rows.append({"series": name, "seg": f"{name}{i}", "wl": w, "flux": v})
    return pd.DataFrame(rows)


def line_df(parts):
    rows = []
    for i, (wl, vals) in enumerate(parts):
        for w, v in zip(wl, vals):
            rows.append({"seg": i, "wl": w, "res": v})
    return pd.DataFrame(rows)


def err_df(parts):
    rows = []
    for i, (wl, errs) in enumerate(parts):
        for w, e in zip(wl, errs):
            rows.append({"seg": i, "wl": w, "lo": -e, "hi": e})
    return pd.DataFrame(rows)


top_hi_df = spec_df(HI, [(tA_wl, tA_hi), (tB_wl, tB_hi), (tC_wl, tC_hi), (tD_wl, tD_hi),
                         (tE_wl, tE_hi), (tF_wl, tF_hi), (tG_wl, tG_hi), (tH_wl, tH_hi),
                         (tI_wl, tI_hi), (tJ_wl, tJ_hi), (tK_wl, tK_hi), (tL_wl, tL_hi),
                         (tM_wl, tM_hi), (tN_wl, tN_hi), (tO_wl, tO_hi)])
top_lo_df = spec_df(LO, [(tA_wl, tA_lo), (tB_wl, tB_lo), (tC_wl, tC_lo), (tD_wl, tD_lo),
                         (tE_wl, tE_lo), (tF_wl, tF_lo), (tG_wl, tG_lo), (tH_wl, tH_lo),
                         (tI_wl, tI_lo), (tJ_wl, tJ_lo), (tK_wl, tK_lo), (tL_wl, tL_lo),
                         (tM_wl, tM_lo), (tN_wl, tN_lo), (tO_wl, tO_lo)])
bot_hi_df = spec_df(HI, [(bP_wl, bP_hi), (bQ_wl, bQ_hi), (bR_wl, bR_hi), (bS_wl, bS_hi),
                         (bT_wl, bT_hi), (bU_wl, bU_hi), (bV_wl, bV_hi)])
bot_lo_df = spec_df(LO, [(bP_wl, bP_lo), (bQ_wl, bQ_lo), (bR_wl, bR_lo), (bS_wl, bS_lo),
                         (bT_wl, bT_lo), (bU_wl, bU_lo), (bV_wl + bW_wl, bV_lo + bW_lo)])

top_err = err_df([(rA_wl, rA_err), (rB_wl, rB_err), (rC_wl, rC_err), (rD_wl, rD_err), (rE_wl, rE_err),
                  (rF_wl, rF_err), (rG_wl, rG_err), (rH_wl, rH_err), (rI_wl, rI_err), (rJ_wl, rJ_err),
                  (rK_wl, rK_err), (rL_wl, rL_err), (rM_wl, rM_err), (rN_wl, rN_err), (rO_wl, rO_err)])
top_rhi = line_df([(rA_wl, rA_hi), (rB_wl, rB_hi), (rC_wl, rC_hi), (rD_wl, rD_hi), (rE_wl, rE_hi),
                   (rF_wl, rF_hi), (rG_wl, rG_hi), (rH_wl, rH_hi), (rI_wl, rI_hi), (rJ_wl, rJ_hi),
                   (rK_wl, rK_hi), (rL_wl, rL_hi), (rM_wl, rM_hi), (rN_wl, rN_hi), (rO_wl, rO_hi)])
top_rlo = line_df([(rA_wl, rA_lo), (rB_wl, rB_lo), (rC_wl, rC_lo), (rD_wl, rD_lo), (rE_wl, rE_lo),
                   (rF_wl, rF_lo), (rG_wl, rG_lo), (rH_wl, rH_lo), (rI_wl, rI_lo), (rJ_wl, rJ_lo),
                   (rK_wl, rK_lo), (rL_wl, rL_lo), (rM_wl, rM_lo), (rN_wl, rN_lo), (rO_wl, rO_lo)])
bot_err = err_df([(sP_wl, sP_err), (sQ_wl, sQ_err), (sR_wl, sR_err), (sS_wl, sS_err), (sT_wl, sT_err),
                  (sU_wl, sU_err), (sV_wl + sW_wl, sV_err + sW_err)])
bot_rhi = line_df([(sP_wl, sP_hi), (sQ_wl, sQ_hi), (sR_wl, sR_hi), (sS_wl, sS_hi), (sT_wl, sT_hi),
                   (sU_wl, sU_hi), (sV_wl, sV_hi)])
bot_rlo = line_df([(sP_wl, sP_lo), (sQ_wl, sQ_lo), (sR_wl, sR_lo), (sS_wl, sS_lo), (sT_wl, sT_lo),
                   (sU_wl, sU_lo), (sV_wl + sW_wl, sV_lo + sW_lo)])

# ---------------- chart building ----------------
W = 1227
GRID_KW = dict(grid=True, gridColor=GRID, gridDash=[1.5, 2.5], gridWidth=0.9)
LINE_SYM = "M-2.15,0H2.15"
RECT_SYM = ("M-2.15,-0.6H2.15M-2.15,-0.3H2.15M-2.15,0H2.15M-2.15,0.3H2.15M-2.15,0.6H2.15")
RES_SYM = "M-2,-0.73H2V0.73H-2Z"


def spectrum_panel(hdf, ldf, edges, xdom, ydom, ticks, with_legend, title=None):
    x = alt.X("wl:Q", scale=alt.Scale(domain=xdom, nice=False, zero=False),
              axis=alt.Axis(values=ticks, labels=False, ticks=False, domain=False, title=None, **GRID_KW))
    y = alt.Y("flux:Q", scale=alt.Scale(domain=ydom, nice=False, zero=False),
              axis=alt.Axis(labels=False, ticks=False, domain=False, grid=False,
                            title=["Flux density(λ)", "[arbitrary units]"], titleFont=FONT,
                            titleFontSize=16, titleFontWeight="bold", titleColor="black",
                            titleX=-32, titleLineHeight=17))
    pink = alt.Chart(hdf).mark_line(strokeWidth=4.2, color=PINK, clip=True).encode(x=x, y=y, detail="seg:N")
    green = alt.Chart(ldf).mark_line(strokeWidth=4.2, color=GREEN, clip=True).encode(x=x, y=y, detail="seg:N")
    fit_hi = alt.Chart(hdf).mark_line(strokeWidth=1.5, color="black", clip=True).encode(x=x, y=y, detail="seg:N")
    fit_lo = alt.Chart(ldf).mark_line(strokeWidth=1.5, color="black", clip=True).encode(x=x, y=y, detail="seg:N")
    rules = alt.Chart(pd.DataFrame({"wl": edges})).mark_rule(
        color="black", strokeWidth=4.5, clip=True).encode(x=x)
    layers = [pink, green, fit_hi, fit_lo, rules]
    if with_legend:
        leg = alt.Legend(
            title=None, orient="none", legendX=592, legendY=156, direction="horizontal",
            labelFont=FONT, labelFontSize=20, labelColor="black", labelOffset=27, labelLimit=400,
            columnPadding=32, padding=8, fillColor="white", strokeColor="#cccccc", cornerRadius=4,
            symbolSize=400, symbolStrokeWidth=4, symbolOpacity=1, symbolOffset=8)
        keys = pd.DataFrame({"series": stack_keys, "wl": [KEY_WL] * 3, "flux": [300] * 3})
        key_layer = alt.Chart(keys).mark_point(filled=False, opacity=1, size=400, strokeWidth=4,
                                               clip=True).encode(
            x=x, y=y,
            color=alt.Color("series:N", scale=alt.Scale(domain=stack_keys, range=[PINK, GREEN, "black"]),
                            legend=leg),
            shape=alt.Shape("series:N", scale=alt.Scale(domain=stack_keys,
                                                        range=[LINE_SYM, LINE_SYM, RECT_SYM]),
                            legend=leg))
        layers.append(key_layer)
    layer = alt.layer(*layers).properties(width=W, height=205)
    if title is not None:
        layer = layer.properties(title=alt.TitleParams(
            text=title, font=FONT, fontSize=21, fontWeight="bold", color="black",
            anchor="middle", frame="group", offset=4, dx=7))
    return layer


def residual_panel(edf, hdf, ldf, edges, xdom, ydom, ticks, yticks, yfmt, height, with_legend,
                   xtitle=None):
    xaxis = dict(values=ticks, format="d", labels=True, ticks=True, tickSize=5, tickColor="black",
                 labelPadding=5, labelFont=FONT, labelFontSize=17, labelColor="black", domain=False,
                 **GRID_KW)
    if xtitle:
        xaxis.update(title=xtitle, titleFont=FONT, titleFontSize=22, titleFontWeight="bold",
                     titleColor="black", titlePadding=7)
    else:
        xaxis.update(title=None)
    x = alt.X("wl:Q", scale=alt.Scale(domain=xdom, nice=False, zero=False), axis=alt.Axis(**xaxis))
    yaxis = alt.Axis(values=yticks, format=yfmt, tickSize=5, tickColor="black", labelPadding=5,
                     labelFont=FONT, labelFontSize=17, labelColor="black", domain=False,
                     title="Residuals [%]", titleFont=FONT, titleFontSize=17, titleFontWeight="bold",
                     titleColor="black", titleX=-59, **GRID_KW)
    yscale = alt.Scale(domain=ydom, nice=False, zero=False)
    band = alt.Chart(edf).mark_area(color=GRAY, stroke=GRAYEDGE, strokeWidth=0.8, opacity=0.95,
                                    clip=True).encode(
        x=x, y=alt.Y("lo:Q", scale=yscale, axis=yaxis), y2="hi:Q", detail="seg:N")
    hi = alt.Chart(hdf).mark_line(color=PINK, strokeWidth=3.0, opacity=0.9, clip=True).encode(
        x=x, y=alt.Y("res:Q", scale=yscale, axis=yaxis), detail="seg:N")
    lo = alt.Chart(ldf).mark_line(color=GREEN, strokeWidth=3.0, opacity=0.85, clip=True).encode(
        x=x, y=alt.Y("res:Q", scale=yscale, axis=yaxis), detail="seg:N")
    rules = alt.Chart(pd.DataFrame({"wl": edges})).mark_rule(
        color="black", strokeWidth=4.5, clip=True).encode(x=x)
    layers = [band, hi, lo, rules]
    if with_legend:
        leg = alt.Legend(
            title=None, orient="none", legendX=629, legendY=8, direction="horizontal",
            labelFont=FONT, labelFontSize=14, labelColor="black", labelOffset=24, labelLimit=400,
            columnPadding=26, padding=5, fillColor="white", strokeColor="#cccccc", cornerRadius=3,
            symbolSize=225, symbolType=RES_SYM, symbolOpacity=0.9, symbolStrokeWidth=0,
            symbolOffset=8)
        keys = pd.DataFrame({"kind": res_keys, "wl": [KEY_WL] * 3, "res": [0.0] * 3})
        key_layer = alt.Chart(keys).mark_point(filled=True, opacity=1, size=225, shape=RES_SYM,
                                               clip=True).encode(
            x=x, y=alt.Y("res:Q", scale=yscale, axis=yaxis),
            color=alt.Color("kind:N", scale=alt.Scale(domain=res_keys, range=[PINK, GREEN, GRAY]),
                            legend=leg))
        layers.append(key_layer)
    return alt.layer(*layers).properties(width=W, height=height)


TOP_X = [3600, 5800]
BOT_X = [5590, 8880]

p1 = spectrum_panel(top_hi_df, top_lo_df, top_edges, TOP_X, [0, 617], top_xticks, True, TITLE)
p2 = residual_panel(top_err, top_rhi, top_rlo, top_edges, TOP_X, [-12.3, 12.2], top_xticks,
                    top_rticks, "d", 103, True)
p3 = spectrum_panel(bot_hi_df, bot_lo_df, bot_edges, BOT_X, [0, 615], bot_xticks, False)
p4 = residual_panel(bot_err, bot_rhi, bot_rlo, bot_edges, BOT_X, [-4.46, 4.46], bot_xticks,
                    bot_rticks, ".1f", 104, False, xtitle="Wavelength [Å]")

RES = dict(x="independent", y="independent", color="independent", shape="independent")
top = alt.vconcat(p1, p2, spacing=0, bounds="flush").resolve_scale(**RES)
bot = alt.vconcat(p3, p4, spacing=0, bounds="flush").resolve_scale(**RES)
chart = alt.vconcat(top, bot, spacing=24).resolve_scale(**RES).properties(
    padding={"left": 3, "top": 1, "right": 0, "bottom": 0}, background="white"
).configure_view(stroke="black", strokeWidth=1)

chart.save("out.html", embed_options={"renderer": "svg", "actions": False})
